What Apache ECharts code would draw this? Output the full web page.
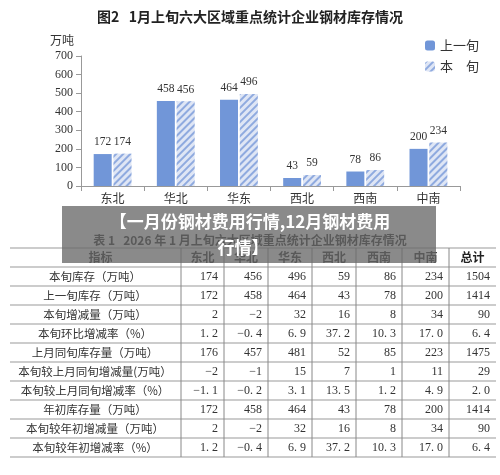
<!DOCTYPE html>
<html><head><meta charset="utf-8">
<script src="https://cdn.jsdelivr.net/npm/echarts@6/dist/echarts.min.js"></script>
<style>html,body{margin:0;padding:0;background:#fff}#c{width:500px;height:475px}</style>
</head><body><div id="c"></div>
<script>
const regions = ['东北','华北','华东','西北','西南','中南'];
const prevTen = [172,458,464,43,78,200];
const thisTen = [174,456,496,59,86,234];
const yTicks = [0,100,200,300,400,500,600,700];
const tableHeader = ['指标','东北','华北','华东','西北','西南','中南','总计'];
const rowLabels = ['本旬库存（万吨）','上一旬库存（万吨）','本旬增减量（万吨）','本旬环比增减率（%）','上月同旬库存量（万吨）','本旬较上月同旬增减量(万吨）','本旬较上月同旬增减率（%）','年初库存量（万吨）','本旬较年初增减量（万吨）','本旬较年初增减率（%）'];
const rowValues = [
 ['174','456','496','59','86','234','1504'],
 ['172','458','464','43','78','200','1414'],
 ['2','−2','32','16','8','34','90'],
 ['1. 2','−0. 4','6. 9','37. 2','10. 3','17. 0','6. 4'],
 ['176','457','481','52','85','223','1475'],
 ['−2','−1','15','7','1','11','29'],
 ['−1. 1','−0. 2','3. 1','13. 5','1. 2','4. 9','2. 0'],
 ['172','458','464','43','78','200','1414'],
 ['2','−2','32','16','8','34','90'],
 ['1. 2','−0. 4','6. 9','37. 2','10. 3','17. 0','6. 4']
];
const FONT = '"Liberation Serif","Noto Sans CJK SC",serif';
const CJK = '"Noto Sans CJK SC",sans-serif';

const colEdges = [10,181,224,268,312,356,402,449,496];
const tableTop = 248, rowH = 19;
const g = [];
const nRows = rowLabels.length + 1;
for (let r = 0; r <= nRows; r++) {
  g.push({type:'line', shape:{x1:10,y1:tableTop+r*rowH,x2:496,y2:tableTop+r*rowH}, style:{stroke:'#999',lineWidth:1}});
}
for (let c = 1; c < colEdges.length-1; c++) {
  g.push({type:'line', shape:{x1:colEdges[c],y1:tableTop,x2:colEdges[c],y2:tableTop+nRows*rowH}, style:{stroke:'#888',lineWidth:1}});
}
tableHeader.forEach((h,i)=>{
  const cx = (colEdges[i]+colEdges[i+1])/2 + (i===0?5:0);
  g.push({type:'text', x:cx, y:tableTop+rowH/2, style:{text:h, font:'bold 12px '+CJK, fill:'#222', align:'center', verticalAlign:'middle'}});
});
rowLabels.forEach((lab,r)=>{
  const y = tableTop+(r+1)*rowH+rowH/2;
  g.push({type:'text', x:95, y:y, style:{text:lab, font:'11.5px '+CJK, fill:'#333', align:'center', verticalAlign:'middle'}});
  rowValues[r].forEach((v,c)=>{
    g.push({type:'text', x:colEdges[c+2]-6, y:y, style:{text:v, font:'12px '+FONT, fill:'#333', align:'right', verticalAlign:'middle'}});
  });
});
g.push({type:'text', x:250, y:240, style:{text:'表 1   2026 年 1 月上旬六大区域重点统计企业钢材库存情况', font:'bold 12px '+CJK, fill:'#222', align:'center', verticalAlign:'middle'}});
g.push({type:'text', x:62, y:40, style:{text:'万吨', font:'12px '+CJK, fill:'#333', align:'center', verticalAlign:'middle'}});
g.push({type:'rect', z:100, shape:{x:62,y:206,width:374,height:57}, style:{fill:'rgba(105,105,105,0.78)'}});
g.push({type:'text', z:101, x:250, y:222, style:{text:'【一月份钢材费用行情,12月钢材费用', font:'bold 17px '+CJK, fill:'#fff', align:'center', verticalAlign:'middle'}});
g.push({type:'text', z:101, x:243, y:248, style:{text:'行情】', font:'bold 17px '+CJK, fill:'#fff', align:'center', verticalAlign:'middle'}});

const chart = echarts.init(document.getElementById('c'));
chart.setOption({
  animation:false,
  backgroundColor:'#fff',
  title:{text:'图2   1月上旬六大区域重点统计企业钢材库存情况', left:'center', top:5, textStyle:{fontFamily:CJK, fontSize:14, fontWeight:'bold', color:'#222'}},
  legend:{orient:'vertical', left:420, top:34, itemWidth:10, itemHeight:10, itemGap:8,
    textStyle:{fontFamily:CJK, fontSize:13, color:'#333'},
    data:['上一旬','本　旬']},
  grid:{left:81, right:40, top:56, bottom:289},
  xAxis:{type:'category', data:regions, axisLine:{lineStyle:{color:'#999'}}, axisTick:{show:true, alignWithLabel:false, lineStyle:{color:'#999'}},
    axisLabel:{fontFamily:CJK, fontSize:12, color:'#333', margin:6}},
  yAxis:{type:'value', min:yTicks[0], max:yTicks[yTicks.length-1], interval:100, splitLine:{show:false},
    axisLine:{show:true, lineStyle:{color:'#999'}}, axisTick:{show:true, lineStyle:{color:'#999'}},
    axisLabel:{fontFamily:FONT, fontSize:12, color:'#333'}},
  series:[
    {name:'上一旬', type:'bar', data:prevTen, barWidth:18, barGap:'10%', itemStyle:{color:'#7196d8'},
      label:{show:true, position:'top', distance:6, fontFamily:FONT, fontSize:11.5, color:'#333'}},
    {name:'本　旬', type:'bar', data:thisTen, barWidth:18, itemStyle:{color:'#dfe6f5',
      decal:{symbol:'rect', symbolSize:1, dashArrayX:[1,0], dashArrayY:[2,3], rotation:-Math.PI/4, color:'#8faadf'}},
      label:{show:true, position:'top', distance:6, fontFamily:FONT, fontSize:11.5, color:'#333'}}
  ],
  graphic:g
});
</script></body></html>
